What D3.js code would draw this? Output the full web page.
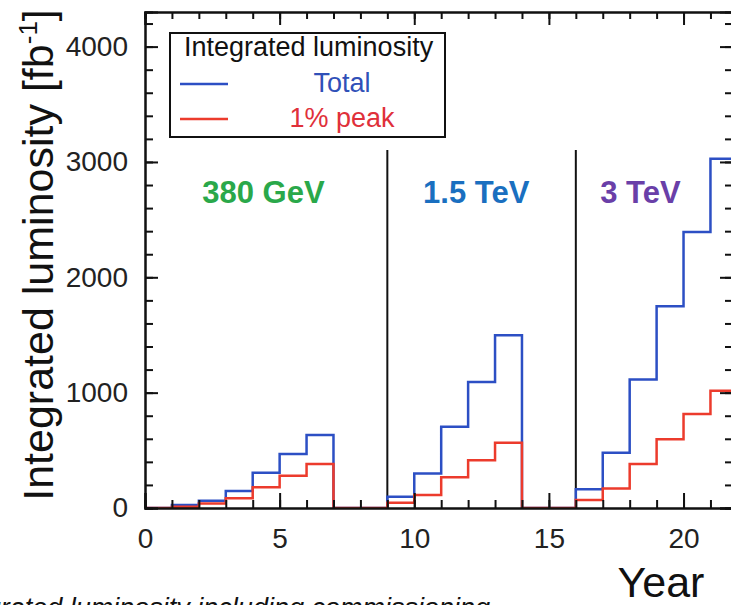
<!DOCTYPE html>
<html>
<head>
<meta charset="utf-8">
<script src="https://cdn.jsdelivr.net/npm/d3@7"></script>
<style>
  body { margin: 0; background: #fff; }
  svg { display: block; font-family: 'Liberation Sans', Arial, Helvetica, sans-serif; }
</style>
</head>
<body>
<svg id="chart" width="731" height="605"></svg>
<script>
// bin edges (years) and integrated luminosity per year bin [fb^-1]
const years = [0, 1, 2, 3, 4, 5, 6, 7, 8, 9, 10, 11, 12, 13, 14, 15, 16, 17, 18, 19, 20, 21, 22]
const total = [0, 25, 63, 147, 306, 468, 632, 0, 0, 98, 300, 704, 1093, 1498, 0, 0, 162, 479, 1114, 1749, 2392, 3028]
const peak = [0, 10, 40, 84, 179, 280, 381, 0, 0, 46, 112, 266, 415, 565, 0, 0, 69, 170, 381, 595, 814, 1016]

const xTicks = [0, 5, 10, 15, 20]
const yTicks = [0, 1000, 2000, 3000, 4000]
const stageEdges = [9, 16]
const stages = [
  { label: '380 GeV', at: 4.4, color: '#2aa84a' },
  { label: '1.5 TeV', at: 12.3, color: '#1a6fc0' },
  { label: '3 TeV', at: 18.4, color: '#6a3fa8' },
]

const plot = { left: 145, right: 732, top: 12, bottom: 508 }

const svg = d3.select('#chart')

const x = d3.scaleLinear().domain([0, 21.8]).range([plot.left, plot.right])
const y = d3.scaleLinear().domain([0, 4300]).range([plot.bottom, plot.top])

svg.append('clipPath').attr('id', 'clip')
  .append('rect')
  .attr('x', plot.left).attr('y', plot.top)
  .attr('width', plot.right - plot.left).attr('height', plot.bottom - plot.top)

function stepPoints(vals) {
  const pts = []
  vals.forEach((v, i) => {
    pts.push([years[i], v])
    pts.push([years[i + 1], v])
  })
  return pts
}

const line = d3.line().x((d) => x(d[0])).y((d) => y(d[1]))

// stage separators
svg.selectAll('.stage-line')
  .data(stageEdges)
  .enter()
  .append('line')
  .attr('class', 'stage-line')
  .attr('x1', (d) => x(d)).attr('x2', (d) => x(d))
  .attr('y1', 150).attr('y2', plot.bottom)
  .attr('stroke', '#111').attr('stroke-width', 2)

svg.selectAll('.stage-label')
  .data(stages)
  .enter()
  .append('text')
  .attr('class', 'stage-label')
  .attr('x', (d) => x(d.at))
  .attr('y', 203)
  .attr('text-anchor', 'middle')
  .style('font-size', '31px')
  .style('font-weight', 'bold')
  .style('fill', (d) => d.color)
  .text((d) => d.label)

// histograms
const g = svg.append('g').attr('clip-path', 'url(#clip)')
g.append('path')
  .attr('d', line(stepPoints(total)))
  .attr('fill', 'none').attr('stroke', '#2c4fc4').attr('stroke-width', 2.5)
g.append('path')
  .attr('d', line(stepPoints(peak)))
  .attr('fill', 'none').attr('stroke', '#ec3b2c').attr('stroke-width', 2.5)

// axes (ticks pointing inward, mirrored on top and right)
function styleAxis(sel) {
  sel.selectAll('.domain').attr('stroke', '#111').attr('stroke-width', 2)
  sel.selectAll('.tick line').attr('stroke', '#111').attr('stroke-width', 2)
  sel.selectAll('text').style('font-size', '28px').style('fill', '#222')
    .style('font-family', "'Liberation Sans', Arial, Helvetica, sans-serif")
}

const minorX = d3.range(0, 22, 1)
const minorY = d3.range(0, 4400, 200)

svg.append('g')
  .attr('transform', `translate(0, ${plot.bottom})`)
  .call(d3.axisBottom(x).tickValues(minorX).tickSize(-8).tickFormat(''))
  .call(styleAxis)
svg.append('g')
  .attr('transform', `translate(0, ${plot.bottom})`)
  .call(d3.axisBottom(x).tickValues(xTicks).tickSize(-15).tickPadding(20).tickFormat(d3.format('d')))
  .call(styleAxis)

svg.append('g')
  .attr('transform', `translate(${plot.left}, 0)`)
  .call(d3.axisLeft(y).tickValues(minorY).tickSize(-8).tickFormat(''))
  .call(styleAxis)
svg.append('g')
  .attr('transform', `translate(${plot.left}, 0)`)
  .call(d3.axisLeft(y).tickValues(yTicks).tickSize(-13).tickPadding(17).tickFormat(d3.format('d')))
  .call(styleAxis)

svg.append('g')
  .attr('transform', `translate(0, ${plot.top})`)
  .call(d3.axisTop(x).tickValues(minorX).tickSize(-7).tickFormat(''))
  .call(styleAxis)
svg.append('g')
  .attr('transform', `translate(0, ${plot.top})`)
  .call(d3.axisTop(x).tickValues(xTicks).tickSize(-13).tickFormat(''))
  .call(styleAxis)

svg.append('g')
  .attr('transform', `translate(${plot.right}, 0)`)
  .call(d3.axisRight(y).tickValues(minorY).tickSize(-7).tickFormat(''))
  .call(styleAxis)
svg.append('g')
  .attr('transform', `translate(${plot.right}, 0)`)
  .call(d3.axisRight(y).tickValues(yTicks).tickSize(-12).tickFormat(''))
  .call(styleAxis)

// axis titles
const yTitle = svg.append('text')
  .attr('transform', 'translate(53, 255) rotate(-90)')
  .attr('text-anchor', 'middle')
  .style('font-size', '43px')
  .style('fill', '#111')
yTitle.append('tspan').text('Integrated luminosity [fb')
yTitle.append('tspan').attr('dy', -16).style('font-size', '26px').text('-1')
yTitle.append('tspan').attr('dy', 16).text(']')

svg.append('text')
  .attr('x', 661).attr('y', 597)
  .attr('text-anchor', 'middle')
  .style('font-size', '43px')
  .style('fill', '#111')
  .text('Year')

svg.append('text')
  .attr('x', 490).attr('y', 617)
  .attr('text-anchor', 'end')
  .style('font-size', '27px')
  .style('font-style', 'italic')
  .style('fill', '#111')
  .text('Integrated luminosity including commissioning')

// legend
const legend = svg.append('g')
legend.append('rect')
  .attr('x', 170).attr('y', 33).attr('width', 275).attr('height', 104)
  .attr('fill', '#fff').attr('stroke', '#111').attr('stroke-width', 2)
legend.append('text')
  .attr('x', 184).attr('y', 56)
  .style('font-size', '27px').style('fill', '#111')
  .text('Integrated luminosity')

const legendItems = [
  { label: 'Total', color: '#2c4fc4', text: '#3050b8', y: 84 },
  { label: '1% peak', color: '#ec3b2c', text: '#e0303a', y: 119 },
]
legendItems.forEach((d) => {
  legend.append('line')
    .attr('x1', 180).attr('x2', 228).attr('y1', d.y).attr('y2', d.y)
    .attr('stroke', d.color).attr('stroke-width', 2.5)
  legend.append('text')
    .attr('x', 342).attr('y', d.y + 8)
    .attr('text-anchor', 'middle')
    .style('font-size', '27px').style('fill', d.text)
    .text(d.label)
})
</script>
</body>
</html>
